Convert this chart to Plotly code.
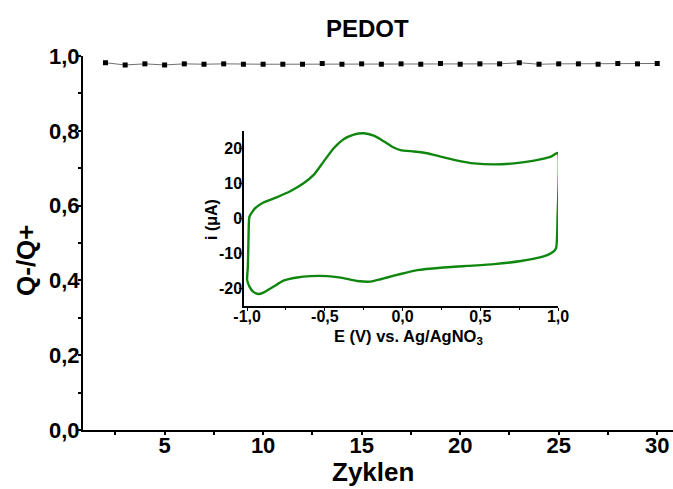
import plotly.graph_objects as go

# Main series: charge ratio per cycle
cycles = list(range(2, 31))
ratio = [0.982, 0.976, 0.979, 0.976, 0.979, 0.978, 0.979, 0.978, 0.978, 0.978,
         0.978, 0.980, 0.978, 0.979, 0.978, 0.979, 0.978, 0.980, 0.978, 0.979,
         0.979, 0.982, 0.978, 0.979, 0.979, 0.978, 0.980, 0.979, 0.980]

# Inset: cyclic voltammogram (closed loop)
cv_E = [-0.99, -0.985, -0.948, -0.895, -0.81, -0.72, -0.637, -0.572, -0.508, -0.443,
        -0.379, -0.314, -0.25, -0.185, -0.142, -0.099, -0.06, -0.013, 0.073, 0.159,
        0.245, 0.353, 0.46, 0.589, 0.718, 0.847, 0.955, 0.998, 0.997, 0.987,
        0.955, 0.89, 0.761, 0.589, 0.417, 0.245, 0.095, -0.013, -0.099, -0.142,
        -0.206, -0.292, -0.379, -0.486, -0.594, -0.679, -0.766, -0.83, -0.895, -0.927,
        -0.96, -0.985, -1.0, -0.995, -0.99]
cv_i = [-3.3, 0.5, 2.9, 4.5, 6.0, 7.8, 10.0, 12.4, 16.2, 20.0,
        22.6, 23.9, 24.3, 23.6, 22.6, 21.4, 20.3, 19.5, 19.1, 18.6,
        17.6, 16.5, 15.7, 15.4, 15.7, 16.5, 17.6, 18.7, 0.0, -8.6,
        -10.0, -11.1, -12.2, -13.1, -13.6, -14.1, -14.8, -15.9, -16.9, -17.4,
        -18.1, -17.9, -17.1, -16.5, -16.5, -16.9, -17.8, -19.5, -21.2, -21.6,
        -21.0, -19.5, -17.6, -13.6, -3.3]

main_yticks = [0.0, 0.2, 0.4, 0.6, 0.8, 1.0]
main_xticks = [5, 10, 15, 20, 25, 30]
inset_xticks = [-1.0, -0.5, 0.0, 0.5, 1.0]
inset_xtext = ["-1,0", "-0,5", "0,0", "0,5", "1,0"]
inset_yticks = [-20, -10, 0, 10, 20]
inset_ytext = ["-20", "-10", "0", "10", "20"]

FONT = "Liberation Sans, Arial, sans-serif"

fig = go.Figure()
fig.add_trace(go.Scatter(
    x=cycles, y=ratio, mode="lines+markers",
    line=dict(color="#707070", width=1),
    marker=dict(symbol="square", size=5, color="black"),
    xaxis="x", yaxis="y", showlegend=False, cliponaxis=False))
fig.add_trace(go.Scatter(
    x=cv_E, y=cv_i, mode="lines",
    line=dict(color="#0f870f", width=2.4, shape="spline", smoothing=0.5),
    xaxis="x2", yaxis="y2", showlegend=False))

axis_common = dict(showgrid=False, zeroline=False, showline=True, linecolor="black",
                   ticks="outside", tickcolor="black", automargin=False)

fig.update_layout(
    width=673, height=489,
    margin=dict(l=83, r=0, t=56, b=59),
    paper_bgcolor="white", plot_bgcolor="white",
    separators=",.",
    font=dict(family=FONT, color="black"),
    xaxis=dict(**axis_common, range=[0.86, 30.8], tickvals=main_xticks,
               linewidth=2, ticklen=3, tickwidth=1.5, ticklabelstandoff=-8,
               minor=dict(ticks="outside", dtick=2.5, tick0=0, ticklen=3, tickcolor="black"),
               tickfont=dict(size=22, weight="bold", family=FONT)),
    yaxis=dict(**axis_common, range=[0, 1.0], tickvals=main_yticks, tickformat=".1f",
               linewidth=2, ticklen=3, tickwidth=1.5, ticklabelstandoff=-6,
               minor=dict(ticks="outside", dtick=0.1, tick0=0, ticklen=3, tickcolor="black"),
               tickfont=dict(size=22, weight="bold", family=FONT)),
    xaxis2=dict(**axis_common, domain=[0.2729, 0.8051], anchor="y2",
                range=[-1.02, 1.0], tickvals=inset_xticks, ticktext=inset_xtext,
                linewidth=1.5, ticklen=3, tickwidth=1, ticklabelstandoff=-8,
                minor=dict(ticks="outside", dtick=0.25, tick0=0, ticklen=2, tickcolor="black"),
                tickfont=dict(size=16, weight="bold", family=FONT)),
    yaxis2=dict(**axis_common, domain=[0.332, 0.800], anchor="x2",
                range=[-25, 25], tickvals=inset_yticks, ticktext=inset_ytext,
                linewidth=1.5, ticklen=3, tickwidth=1, ticklabelstandoff=-6,
                tickfont=dict(size=16, weight="bold", family=FONT)),
    annotations=[
        dict(text="<b>PEDOT</b>", xref="paper", yref="paper", x=(367-83)/590, y=(430-29)/374,
             xanchor="center", yanchor="middle", showarrow=False, font=dict(size=24, family=FONT)),
        dict(text="<b>Zyklen</b>", xref="paper", yref="paper", x=(373-83)/590, y=(430-472)/374,
             xanchor="center", yanchor="middle", showarrow=False, font=dict(size=26, family=FONT)),
        dict(text="<b>Q-/Q+</b>", xref="paper", yref="paper", x=(26-83)/590, y=(430-260)/374,
             xanchor="center", yanchor="middle", textangle=-90, showarrow=False,
             font=dict(size=26, family=FONT)),
        dict(text="<b>i (μA)</b>", xref="paper", yref="paper", x=(211-83)/590, y=(430-220)/374,
             xanchor="center", yanchor="middle", textangle=-90, showarrow=False,
             font=dict(size=16, family=FONT)),
        dict(text="<b>E (V) vs. Ag/AgNO<sub>3</sub></b>", xref="paper", yref="paper",
             x=(409-83)/590, y=(430-337)/374,
             xanchor="center", yanchor="middle", showarrow=False, font=dict(size=16.5, family=FONT)),
    ],
)

fig.write_html("out.html")
